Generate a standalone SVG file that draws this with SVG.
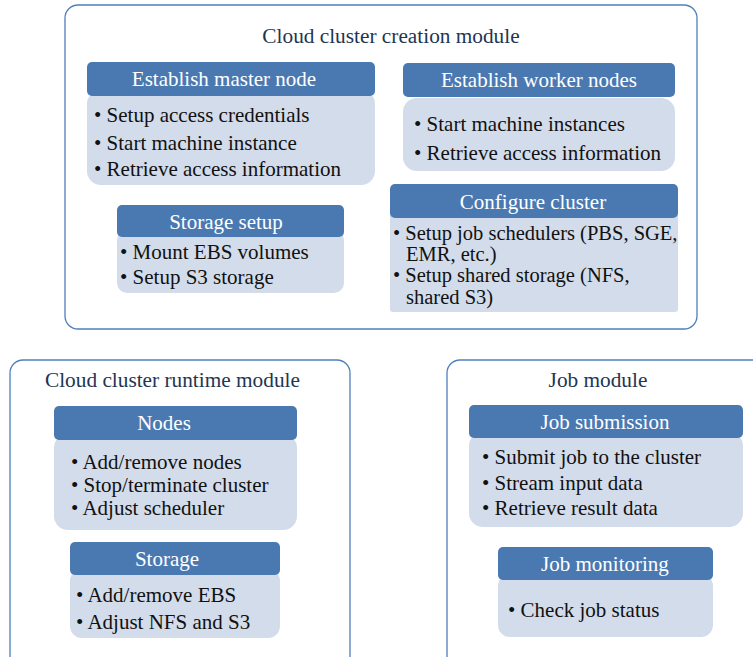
<svg xmlns="http://www.w3.org/2000/svg" width="753" height="657" viewBox="0 0 753 657">
<style>
.mod{fill:#ffffff;stroke:#4f7fbd;stroke-width:1.3}
.hd{fill:#4a79b2}
.bd{fill:#d3dcea}
.ttl{font-family:"Liberation Serif","Times New Roman",serif;font-size:21.3px;fill:#1e3553}
.ht{font-family:"Liberation Serif","Times New Roman",serif;font-size:21px;fill:#ffffff;text-anchor:middle}
.tx{font-family:"Liberation Serif","Times New Roman",serif;font-size:21px;fill:#111111}
.tc{font-family:"Liberation Serif","Times New Roman",serif;font-size:20.5px;fill:#111111}
</style>
<g id="creation-module">
<rect class="mod" x="65" y="5" width="632" height="324" rx="13"/>
<text class="ttl" x="391" y="43" text-anchor="middle">Cloud cluster creation module</text>
</g>
<g id="establish-master">
<rect class="bd" x="87" y="90" width="288" height="95" rx="14"/>
<rect class="hd" x="87" y="62" width="288" height="34" rx="5"/>
<text class="ht" x="224" y="86">Establish master node</text>
<text class="tx" x="94" y="122">• Setup access credentials</text>
<text class="tx" x="94" y="150">• Start machine instance</text>
<text class="tx" x="94" y="176">• Retrieve access information</text>
</g>
<g id="establish-worker">
<rect class="bd" x="403" y="98" width="272" height="73" rx="14"/>
<rect class="hd" x="403" y="63" width="272" height="34" rx="5"/>
<text class="ht" x="539" y="87">Establish worker nodes</text>
<text class="tx" x="414" y="131">• Start machine instances</text>
<text class="tx" x="414" y="160">• Retrieve access information</text>
</g>
<g id="storage-setup">
<rect class="bd" x="117" y="230" width="227" height="63" rx="10"/>
<rect class="hd" x="117" y="205" width="227" height="32" rx="5"/>
<text class="ht" x="226" y="229">Storage setup</text>
<text class="tx" x="120" y="259">• Mount EBS volumes</text>
<text class="tx" x="120" y="284">• Setup S3 storage</text>
</g>
<g id="configure-cluster">
<rect class="bd" x="390" y="212" width="288" height="100" rx="3"/>
<rect class="hd" x="390" y="184" width="288" height="34" rx="5"/>
<text class="ht" x="533" y="209">Configure cluster</text>
<text class="tc" x="393" y="240">• Setup job schedulers (PBS, SGE,</text>
<text class="tc" x="406" y="261">EMR, etc.)</text>
<text class="tc" x="393" y="282">• Setup shared storage (NFS,</text>
<text class="tc" x="406" y="304">shared S3)</text>
</g>
<g id="runtime-module">
<rect class="mod" x="10" y="360" width="340" height="320" rx="13"/>
<text class="ttl" x="45" y="387">Cloud cluster runtime module</text>
</g>
<g id="nodes">
<rect class="bd" x="54" y="434" width="243" height="96" rx="14"/>
<rect class="hd" x="54" y="406" width="243" height="34" rx="5"/>
<text class="ht" x="164" y="430">Nodes</text>
<text class="tx" x="71" y="469">• Add/remove nodes</text>
<text class="tx" x="71" y="492">• Stop/terminate cluster</text>
<text class="tx" x="71" y="515">• Adjust scheduler</text>
</g>
<g id="storage">
<rect class="bd" x="70" y="569" width="210" height="69" rx="12"/>
<rect class="hd" x="70" y="542" width="210" height="33" rx="5"/>
<text class="ht" x="167" y="566">Storage</text>
<text class="tx" x="76" y="602">• Add/remove EBS</text>
<text class="tx" x="76" y="629">• Adjust NFS and S3</text>
</g>
<g id="job-module">
<rect class="mod" x="447" y="360" width="330" height="320" rx="13"/>
<text class="ttl" x="598" y="387" text-anchor="middle">Job module</text>
</g>
<g id="job-submission">
<rect class="bd" x="469" y="432" width="274" height="95" rx="14"/>
<rect class="hd" x="469" y="405" width="274" height="33" rx="5"/>
<text class="ht" x="605" y="429">Job submission</text>
<text class="tx" x="482" y="464">• Submit job to the cluster</text>
<text class="tx" x="482" y="490">• Stream input data</text>
<text class="tx" x="482" y="515">• Retrieve result data</text>
</g>
<g id="job-monitoring">
<rect class="bd" x="498" y="574" width="215" height="63" rx="12"/>
<rect class="hd" x="498" y="547" width="215" height="33" rx="5"/>
<text class="ht" x="605" y="571">Job monitoring</text>
<text class="tx" x="508" y="617">• Check job status</text>
</g>
<g id="connectors"></g>
</svg>
